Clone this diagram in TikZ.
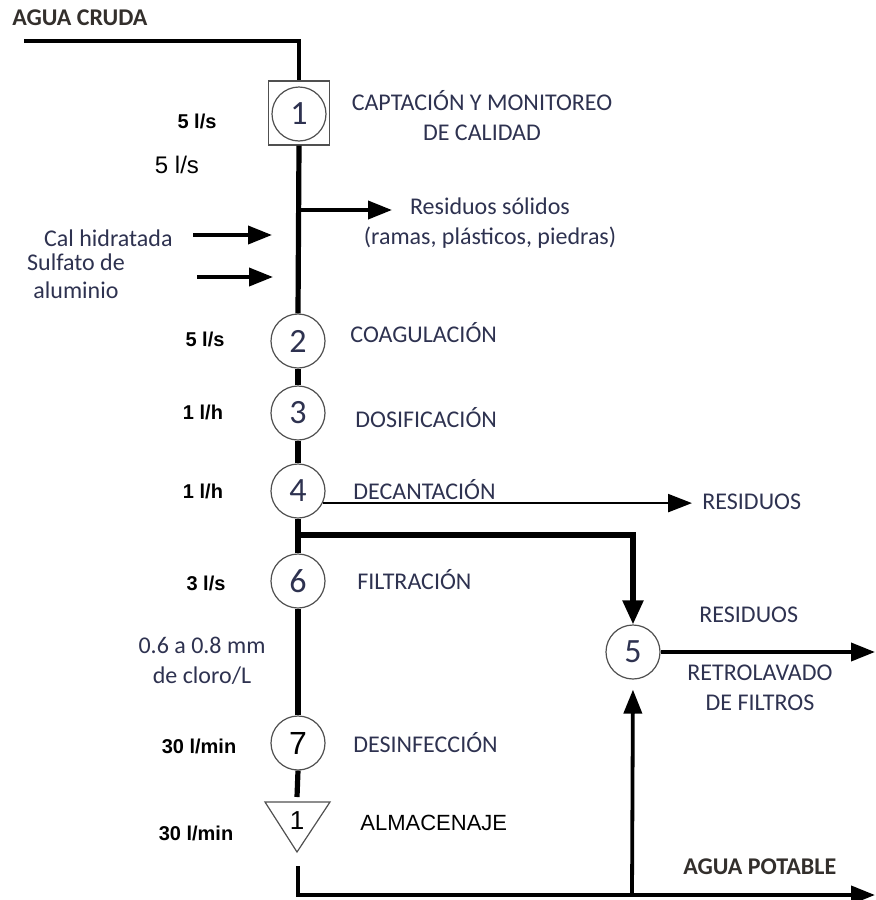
\documentclass[tikz,border=0pt]{standalone}
\usepackage{fontspec}
\setmainfont{Carlito}
\newfontfamily\arialfont{Liberation Sans}
\usepackage{xcolor}
\usetikzlibrary{positioning, arrows.meta, calc}
\definecolor{labelink}{HTML}{2E3250}
\definecolor{headink}{HTML}{332F2C}
\definecolor{ringgray}{HTML}{505050}

\tikzset{
  pipe/.style={line width=2.6pt, black},
  feed/.style={line width=1.9pt, -{Triangle[length=12pt, width=9pt]}},
  stage/.style={circle, draw=ringgray, line width=0.6pt, fill=white,
    minimum size=27pt, inner sep=0pt, text=labelink,
    font=\fontsize{17}{17}\selectfont},
  steplabel/.style={anchor=west, inner sep=0pt, text=labelink,
    font=\fontsize{12}{15}\selectfont},
  rate/.style={inner sep=0pt, font=\arialfont\bfseries\fontsize{10}{12}\selectfont},
  headlabel/.style={anchor=west, inner sep=0pt, text=headink,
    font=\bfseries\fontsize{12}{15}\selectfont}
}

\begin{document}
\begin{tikzpicture}[x=0.5pt, y=-0.5pt]
  \useasboundingbox (0,0) rectangle (875,900);

  % process stages
  \node[draw=ringgray, line width=0.6pt, minimum width=30.5pt, minimum height=32pt] (box1) at (299,113) {};
  \node[stage] (s1) at (299,114) {1};
  \node[stage] (s2) at (298,341) {2};
  \node[stage] (s3) at (298,413) {3};
  \node[stage] (s4) at (298,491) {4};
  \node[stage] (s6) at (298,581) {6};
  \node[stage, text=black, font=\arialfont\fontsize{16}{16}\selectfont] (s7) at (298,743) {7};
  \node[stage] (s5) at (633,652) {5};
  \node[inner sep=0pt, font=\arialfont\fontsize{13}{13}\selectfont] (tank) at (297,821) {1};
  \draw[ringgray, line width=0.6pt] (265,802) -- (330,802) -- (297,852) -- cycle;

  % labels
  \node[headlabel] (raw) at (12,18) {AGUA CRUDA};
  \node[steplabel, anchor=center, align=center] (capt) at (482,116) {CAPTACIÓN Y MONITOREO\\DE CALIDAD};
  \node[steplabel, anchor=center, align=center] (solids) at (490,223) {Residuos sólidos\\(ramas, plásticos, piedras)};
  \node[steplabel, anchor=east] (cal) at (173,238) {Cal hidratada};
  \node[steplabel, anchor=center, align=center, font=\fontsize{12}{14}\selectfont] (alum) at (76,276) {Sulfato de\\aluminio};
  \node[steplabel] (coag) at (350,333) {COAGULACIÓN};
  \node[steplabel] (dosi) at (355,418) {DOSIFICACIÓN};
  \node[steplabel] (deca) at (353,490) {DECANTACIÓN};
  \node[steplabel] (filt) at (357,580) {FILTRACIÓN};
  \node[steplabel] (desi) at (353,743) {DESINFECCIÓN};
  \node[anchor=west, inner sep=0pt, font=\arialfont\fontsize{11}{13}\selectfont] (alma) at (360,823) {ALMACENAJE};
  \node[steplabel] (waste) at (702,502) {RESIDUOS};
  \node[steplabel] (waste5) at (699,615) {RESIDUOS};
  \node[steplabel, anchor=center, align=center] (retro) at (760,688) {RETROLAVADO\\DE FILTROS};
  \node[headlabel] (potable) at (683,867) {AGUA POTABLE};
  \node[steplabel, anchor=center, align=center] (cloro) at (202,661) {0.6 a 0.8 mm\\de cloro/L};

  % flow rates
  \node[rate] (q1) at (197,121) {5 l/s};
  \node[inner sep=0pt, font=\arialfont\fontsize{12}{14}\selectfont] (q1b) at (177,165) {5 l/s};
  \node[rate] (q2) at (205,339) {5 l/s};
  \node[rate] (q3) at (203,412) {1 l/h};
  \node[rate] (q4) at (203,491) {1 l/h};
  \node[rate] (q6) at (206,583) {3 l/s};
  \node[rate] (q7) at (199,746) {30 l/min};
  \node[rate] (qt) at (196,833) {30 l/min};

  % pipes
  \coordinate (inlet) at (24,41);
  \coordinate (split0) at (298,210);
  \coordinate (solidsin) at (392,210);
  \coordinate (calin) at (272,235);
  \coordinate (alumin) at (273,277);
  \coordinate (split) at (298,535);
  \coordinate (tanktop) at (297,797);
  \coordinate (tankout) at (298,866);
  \coordinate (outlet) at (875,895);
  \coordinate (bw) at (632,895);
  \coordinate (waste5out) at (875,650);

  \draw[line width=2pt] (inlet) -| (box1.north);
  \draw[pipe] (box1.south) -- (s2.north);
  \draw[pipe] (s2.south) -- (s3.north);
  \draw[pipe] (s3.south) -- (s4.north);
  \draw[pipe] (s4.south) -- (s6.north);
  \draw[pipe] (s6.south) -- (s7.north);
  \draw[pipe] (s7.south) -- (tanktop);
  \draw[feed] (split0) -- (solidsin);
  \draw[feed, shorten <=10pt] (cal.east |- calin) -- (calin);
  \draw[feed] (197,277) -- (alumin);
  \draw[line width=1.2pt, shorten >=5pt, -{Triangle[length=12pt, width=9pt]}] (s4.-26) -- (s4.-26 -| waste.west);
  \draw[pipe, -{Triangle[length=12pt, width=10pt]}] (split) -| (s5.north);
  \draw[feed] (s5.east) -- (s5.east -| waste5out);
  \draw[line width=2pt, -{Triangle[length=12pt, width=9pt]}] (tankout) |- (outlet);
  \draw[feed, shorten >=5pt] (bw) -- (s5.south);
\end{tikzpicture}
\end{document}
